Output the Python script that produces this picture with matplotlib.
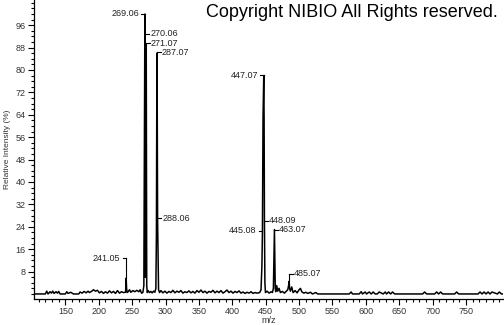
import matplotlib
matplotlib.use('Agg')
import matplotlib.pyplot as plt
from matplotlib.ticker import MultipleLocator

# profile spectrum as (m/z, relative intensity %) pairs, by region
low_region = [(103, 0), (120, 0), (122, 1.0), (124, 0), (127, 0.8), (129, 0.3), (131, 1.0),
              (133, 0.2), (136, 0.8), (138, 0.3), (140, 0.9), (142, 0), (150, 0), (152, 0.8),
              (154, 0.2), (158, 0.6), (162, 0), (170, 0), (172, 0.7), (175, 0.3), (178, 0.9),
              (181, 0.4), (184, 1.0), (186, 0.5), (189, 0.9), (192, 1.5), (195, 1.0),
              (198, 1.3), (201, 0.4), (204, 0.9), (207, 0.2), (210, 0.8), (213, 0.3),
              (216, 1.1), (219, 0.4), (222, 0.9), (225, 0.2), (228, 1.2), (231, 0.3),
              (234, 0.8), (237, 0.5), (240, 0.6), (240.6, 2.5), (241.05, 5.7), (241.6, 2.0),
              (242.5, 0.5), (244, 0.8), (246, 1.5), (248, 0.6), (251, 1.2), (254, 0.8),
              (257, 1.3), (260, 0.8), (262, 1.5), (264, 0.3), (266, 0.5)]
aglycone_region = [(267.5, 3.0), (268.3, 50), (269.06, 100), (269.6, 6), (270.3, 40),
                   (271.07, 89), (271.8, 3), (272.6, 0.5), (274, 1.2), (276, 0.5), (278, 0.9),
                   (280, 0.4), (282, 1.0), (284, 0.6), (285.5, 2.0), (286.3, 21), (287.07, 86),
                   (287.6, 62), (288.06, 27), (288.8, 13), (289.5, 1.5), (291, 0.5), (293, 1.2)]
mid_region = [(296, 0.4), (299, 1.0), (302, 0.3), (305, 0.9), (308, 0.5), (311, 1.3),
              (314, 0.4), (317, 1.0), (320, 0.6), (323, 1.2), (326, 0.3), (329, 0.8),
              (332, 0.5), (335, 1.1), (338, 0.4), (341, 0.9), (344, 0.3), (347, 1.2),
              (350, 0.6), (353, 1.4), (356, 0.5), (359, 1.0), (362, 0.3), (365, 0.9),
              (368, 0.6), (371, 1.3), (374, 0.4), (377, 1.0), (380, 0.5), (383, 1.2),
              (386, 0.3), (389, 0.8), (392, 1.4), (395, 0.5), (398, 1.0), (401, 0.3),
              (404, 0.9), (407, 0.5), (410, 1.1), (413, 0.3), (416, 0.7), (419, 0.2),
              (422, 0.6), (425, 0.3), (428, 0.8), (431, 0.2), (434, 0.5), (437, 0.3),
              (441, 0.5)]
glycoside_region = [(443, 1.5), (444.3, 10), (445.08, 22), (446, 63), (447.07, 78),
                    (447.6, 63), (448.09, 26), (448.8, 4), (449.6, 0.5), (452, 1.0), (455, 0.3),
                    (458, 0.8), (460, 0.5), (461.5, 2.0), (462.4, 15), (463.07, 23),
                    (463.6, 15), (464.3, 2.0), (465, 0.8), (466.5, 3.0), (468, 1.0), (470, 2.0),
                    (472, 0.5), (475, 0.9), (478, 0.3), (481, 1.0), (483, 1.5), (484.3, 3.0),
                    (485.07, 4.5), (485.8, 2.0), (487, 1.0), (489, 2.5), (491, 0.5),
                    (494, 1.2), (497, 0.4), (500, 1.5), (502, 2.0), (504, 0.8), (507, 0.3),
                    (510, 0.6), (513, 0.2), (517, 0.6), (520, 0), (525, 0.5), (528, 0)]
high_region = [(575, 0), (578, 0.7), (580, 0), (590, 0), (593, 0.8), (595, 0), (599, 0.7),
               (601, 0), (605, 0.7), (608, 0), (611, 0.7), (614, 0), (617, 0), (620, 0.7),
               (626, 0), (629, 0.7), (631, 0), (634, 0.7), (637, 0), (640, 0.7), (643, 0),
               (646, 0), (685, 0), (688, 0.7), (691, 0), (703, 0), (706, 0.7), (709, 0),
               (712, 0.7), (715, 0), (733, 0), (736, 0.7), (739, 0), (768, 0), (771, 0.7),
               (774, 0), (777, 0.7), (780, 0), (783, 0.7), (786, 0), (789, 0.7), (797, 0),
               (800, 0.7), (803, 0), (805, 0)]

# peak labels: text, m/z of peak, intensity of peak top
peak_labels = ["269.06", "270.06", "271.07", "287.07", "288.06", "241.05",
               "447.07", "445.08", "448.09", "463.07", "485.07"]
peak_mz = [269.06, 270.06, 271.07, 287.07, 288.06, 241.05,
           447.07, 445.08, 448.09, 463.07, 485.07]
peak_top = [100, 92.9, 89, 86, 27, 5.7, 78, 22, 26, 23, 4.5]

# label layout: height of the tag (%), side of the text, vertical bracket or not
tag_y = [100, 92.9, 89.6, 86.4, 27, 12.8, 78.2, 22.5, 26.1, 23, 7.2]
tag_side = ["left", "right", "right", "right", "right", "left",
            "left", "left", "right", "right", "right"]
bracket = [True, False, True, True, False, True, True, False, False, True, True]

points = low_region + aglycone_region + mid_region + glycoside_region + high_region
mz = [p[0] for p in points]
intensity = [p[1] for p in points]

plt.rcParams['font.family'] = ['Liberation Sans', 'DejaVu Sans']

fig = plt.figure(figsize=(5.04, 3.25), dpi=100)
ax = fig.add_axes([0.0675, 0.08, 0.93, 0.92])

ax.plot(mz, intensity, color='black', lw=1.1)

for lab, x, top, ty, side, br in zip(peak_labels, peak_mz, peak_top, tag_y, tag_side, bracket):
    dx = 5.5
    if side == "left":
        ax.plot([x - dx, x], [ty, ty], color='black', lw=0.8)
        ax.text(x - dx - 3, ty, lab, ha='right', va='center', fontsize=6.5, color='#222222')
    else:
        ax.plot([x, x + dx], [ty, ty], color='black', lw=0.8)
        ax.text(x + dx + 1.5, ty, lab, ha='left', va='center', fontsize=6.5, color='#222222')
    if br and ty > top:
        ax.plot([x, x], [top, ty], color='black', lw=0.8)

ax.set_xlim(103, 805)
ax.set_ylim(-1.8, 105)
ax.set_xticks(range(150, 751, 50))
ax.xaxis.set_minor_locator(MultipleLocator(10))
ax.set_yticks(range(8, 97, 8))
ax.yaxis.set_minor_locator(MultipleLocator(2))
ax.tick_params(which='major', length=4, width=0.8, labelsize=6.5, labelcolor='#333333', pad=2)
ax.tick_params(which='minor', length=2, width=0.8)
ax.spines['top'].set_visible(False)
ax.spines['right'].set_visible(False)
ax.spines['left'].set_linewidth(0.9)
ax.spines['bottom'].set_linewidth(0.9)

ax.set_xlabel("m/z", fontsize=6.5, color='#333333', labelpad=0)
ax.set_ylabel("Relative Intensity (%)", fontsize=6, color='#333333', labelpad=3)

fig.text(0.987, 0.988, "Copyright NIBIO All Rights reserved.", ha='right', va='top',
         fontsize=13.0, color='black')

fig.savefig("out.png", dpi=100)
